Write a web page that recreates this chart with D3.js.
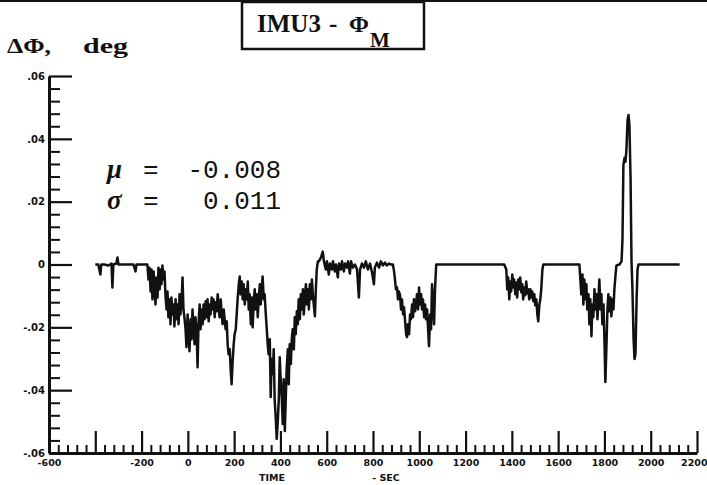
<!DOCTYPE html>
<html><head><meta charset="utf-8">
<script src="https://cdn.jsdelivr.net/npm/d3@7"></script>
<style>
html,body{margin:0;padding:0;background:#fff;}
svg{display:block;}
</style></head>
<body>
<svg id="chart" width="707" height="485"></svg>
<script>
// time, seconds
const time = [
-400,-387,-378,-374,-361,-343,-330,-326,-322,-309,-304,-300,-270,-235,-226,-222,-175,
-170,-166,-161,-157,-153,-148,-144,-140,-135,-131,-127,-122,-118,-114,-110,-105,-101,
-97,-92,-88,-84,-79,-75,-71,-66,-62,-58,-53,-49,-45,-40,-36,-32,-27,-23,-19,-14,
-10,-6,-1,3,7,12,16,20,25,29,33,38,42,46,51,55,59,64,68,72,77,
81,85,90,94,98,103,107,111,116,120,124,129,133,137,142,146,150,155,159,163,168,172,176,181,185,189,194,198,202,207,211,215,
220,224,228,233,237,241,246,250,254,259,263,267,272,276,280,285,289,293,298,302,306,311,315,319,323,328,332,
336,341,345,349,354,358,362,367,371,375,380,384,388,393,397,401,406,410,414,419,423,427,432,436,440,445,449,453,458,462,466,471,475,479,484,488,492,497,501,505,510,514,518,523,527,531,536,540,544,549,553,557,562,
566,575,583,588,596,601,609,614,622,627,635,640,648,653,661,666,674,679,687,692,700,705,713,722,731,739,744,752,761,769,778,787,795,804,808,817,826,834,843,852,860,869,878,886,
891,895,899,904,908,912,917,921,925,930,934,938,943,947,951,956,960,964,969,973,977,982,986,990,995,999,1003,1008,1012,1016,1021,1025,1029,1034,1038,1042,1047,1051,1055,1060,1064,1068,1073,
1367,1376,1380,1384,1389,1393,1397,1402,1406,1410,1415,1419,1423,1428,1432,1436,1441,1445,1449,1454,1458,1462,1467,1471,1475,1480,1484,1488,1493,1497,1501,1506,1510,1514,1519,1523,1527,1532,1536,1549,
1692,1696,1700,1705,1709,1713,1718,1722,1726,1731,1735,1739,1744,1748,1752,1757,1761,1765,1770,1774,1778,1783,1787,1791,1796,1800,1804,1809,1813,1817,1822,1826,1830,1835,1839,1843,1848,1852,1865,1874,
1878,1882,1887,1891,1895,1900,1904,1908,1913,1917,1921,1926,1930,1934,1939,1943,1947,2125
];
// delta phi, degrees
const dphi = [
0,0,-.0032,0,0,-.0003,.0003,-.0073,0,.0003,.0022,0,0,0,-.0022,0,0,
-.0048,-.0010,-.0086,-.0016,-.0111,-.0022,-.0063,-.0127,-.0041,-.0105,-.0010,-.0079,-.0016,-.0063,-.0003,-.0048,-.0022,
-.0095,-.0143,-.0086,-.0168,-.0111,-.0190,-.0105,-.0159,-.0127,-.0197,-.0111,-.0174,-.0127,-.0190,-.0095,-.0159,-.0111,-.0041,-.0143,-.0174,
-.0206,-.0263,-.0159,-.0222,-.0276,-.0174,-.0238,-.0143,-.0206,-.0254,-.0168,-.0222,-.0327,-.0190,-.0127,-.0206,-.0143,-.0190,-.0127,-.0174,-.0117,
-.0168,-.0111,-.0181,-.0127,-.0159,-.0105,-.0143,-.0111,-.0168,-.0120,-.0149,-.0095,-.0136,-.0168,-.0111,-.0159,-.0190,-.0143,-.0174,-.0206,-.0181,-.0254,-.0286,-.0270,-.0333,-.0381,-.0301,-.0254,-.0222,-.0206,-.0159,-.0111,
-.0063,-.0038,-.0095,-.0054,-.0111,-.0063,-.0127,-.0079,-.0111,-.0054,-.0143,-.0095,-.0190,-.0105,-.0200,-.0111,-.0079,-.0143,-.0095,-.0168,-.0111,-.0063,-.0127,-.0079,-.0038,-.0111,-.0095,
-.0149,-.0206,-.0254,-.0286,-.0238,-.0422,-.0301,-.0349,-.0270,-.0428,-.0492,-.0555,-.0508,-.0428,-.0295,-.0365,-.0428,-.0508,-.0365,-.0530,-.0428,-.0333,-.0270,-.0381,-.0254,-.0317,-.0238,-.0206,-.0270,-.0168,-.0222,-.0149,-.0190,-.0111,-.0174,-.0095,-.0143,-.0079,-.0159,-.0111,-.0063,-.0127,-.0079,-.0143,-.0063,-.0111,-.0048,-.0095,-.0127,-.0165,-.0079,-.0016,.0010,
.0010,.0022,.0041,.0010,-.0016,.0010,-.0032,.0003,-.0016,.0010,-.0022,0,-.0041,.0003,-.0016,.0010,-.0022,.0003,-.0010,.0010,-.0029,.0010,-.0010,0,-.0016,-.0105,-.0016,.0003,-.0010,.0010,-.0016,.0003,-.0022,-.0063,-.0010,.0006,-.0010,.0010,-.0003,.0006,-.0003,.0003,0,0,
-.0022,-.0048,-.0079,-.0073,-.0111,-.0086,-.0098,-.0143,-.0111,-.0159,-.0136,-.0174,-.0222,-.0231,-.0190,-.0222,-.0159,-.0174,-.0127,-.0168,-.0111,-.0149,-.0127,-.0095,-.0143,-.0073,-.0127,-.0095,-.0143,-.0111,-.0168,-.0127,-.0174,-.0143,-.0206,-.0260,-.0159,-.0206,-.0063,-.0127,-.0190,-.0079,0,
0,-.0016,-.0079,-.0041,-.0111,-.0054,-.0086,-.0032,-.0073,-.0048,-.0095,-.0057,-.0105,-.0048,-.0079,-.0041,-.0089,-.0063,-.0111,-.0073,-.0098,-.0054,-.0092,-.0079,-.0111,-.0079,-.0105,-.0086,-.0117,-.0095,-.0130,-.0111,-.0159,-.0181,-.0127,-.0111,-.0079,-.0016,0,0,
0,-.0048,-.0095,-.0032,-.0127,-.0048,-.0111,-.0063,-.0143,-.0095,-.0190,-.0111,-.0228,-.0127,-.0168,-.0079,-.0143,-.0095,-.0174,-.0111,-.0048,-.0143,-.0095,-.0190,-.0127,-.0238,-.0374,-.0254,-.0143,-.0095,-.0149,-.0105,-.0165,-.0111,-.0143,-.0079,-.0032,-.0003,0,.0010,
.0079,.0317,.0340,.0327,.0365,.0460,.0476,.0444,.0270,.0010,-.0079,-.0238,-.0301,-.0286,-.0111,-.0016,0,0
];
const xTickValues = [-600,-400,-200,0,200,400,600,800,1000,1200,1400,1600,1800,2000,2200];
const xTickLabels = ["-600","","-200","0","200","400","600","800","1000","1200","1400","1600","1800","2000","2200"];
const yTickValues = [0.06,0.04,0.02,0,-0.02,-0.04,-0.06];
const yTickLabels = [".06",".04",".02","0","-.02","-.04","-.06"];
const titleParts = ["IMU3", "-", "\u03A6"];
const titleSub = "M";
const yTitle = "\u0394\u03A6,";
const yUnit = "deg";
const xTitle1 = "TIME";
const xTitle2 = "- SEC";
const statSymbols = ["\u03BC","\u03C3"];
const statValues = ["-0.008","0.011"];

const ink = "#111";
const svg = d3.select("#chart");
const x = d3.scaleLinear().domain([-600,2200]).range([49,697]);
const y = d3.scaleLinear().domain([-0.06,0.06]).range([453,76]);

// top border line
svg.append("line").attr("x1",0).attr("x2",707).attr("y1",1).attr("y2",1)
  .attr("stroke",ink).attr("stroke-width",2);

// minor ticks
const xMinor = d3.range(-600,2201,40).filter(v => ((v+600)%200)!==0);
const yMinor = d3.range(-60,61,4).filter(v => v%20!==0).map(v=>v/1000);

svg.append("g").attr("transform","translate(0,453)")
  .call(d3.axisBottom(x).tickValues(xMinor).tickSize(-8).tickSizeOuter(0).tickFormat(""))
  .call(g=>g.select(".domain").remove())
  .selectAll("line").attr("stroke",ink).attr("stroke-width",2);
svg.append("g").attr("transform","translate(49,0)")
  .call(d3.axisLeft(y).tickValues(yMinor).tickSize(-11).tickSizeOuter(0).tickFormat(""))
  .call(g=>g.select(".domain").remove())
  .selectAll("line").attr("stroke",ink).attr("stroke-width",2);

// major axes
const xAxis = svg.append("g").attr("transform","translate(0,453)")
  .call(d3.axisBottom(x).tickValues(xTickValues).tickSize(-22).tickSizeOuter(0).tickPadding(6)
    .tickFormat((d,i)=>xTickLabels[i]));
xAxis.select(".domain").attr("stroke",ink).attr("stroke-width",3);
xAxis.selectAll("line").attr("stroke",ink).attr("stroke-width",2.2);
xAxis.selectAll("text").attr("font-family","DejaVu Sans").attr("font-weight","bold")
  .attr("font-size",9.5).attr("fill",ink);
xAxis.selectAll(".tick").filter((d,i)=>i===xTickValues.length-1).select("text")
  .attr("text-anchor","end").attr("x",10);

const yAxis = svg.append("g").attr("transform","translate(49,0)")
  .call(d3.axisLeft(y).tickValues(yTickValues).tickSize(-23).tickSizeOuter(0).tickPadding(4)
    .tickFormat((d,i)=>yTickLabels[i]));
yAxis.select(".domain").attr("stroke",ink).attr("stroke-width",3);
yAxis.selectAll("line").attr("stroke",ink).attr("stroke-width",2.2);
yAxis.selectAll("text").attr("font-family","DejaVu Sans").attr("font-weight","bold")
  .attr("font-size",10).attr("fill",ink);

// data line
const pts = time.map((t,i)=>[t,dphi[i]]);
svg.append("path").datum(pts)
  .attr("fill","none").attr("stroke",ink).attr("stroke-width",2.5)
  .attr("stroke-linejoin","round")
  .attr("d", d3.line().x(d=>x(d[0])).y(d=>y(d[1])));

// title box
svg.append("rect").attr("x",242).attr("y",2).attr("width",182).attr("height",47)
  .attr("fill","none").attr("stroke",ink).attr("stroke-width",2.5);
const tt = svg.append("text").attr("y",32)
  .attr("font-family","Liberation Serif").attr("font-weight","bold").attr("font-size",25).attr("fill",ink);
tt.append("tspan").attr("x",257).text(titleParts[0]);
tt.append("tspan").attr("x",329).text(titleParts[1]);
tt.append("tspan").attr("x",349).attr("font-size",24).text(titleParts[2]);
tt.append("tspan").attr("x",370).attr("dy",15).attr("font-size",21).text(titleSub);

// y title
svg.append("text").attr("x",7).attr("y",53).attr("font-family","Liberation Serif")
  .attr("font-weight","bold").attr("font-size",22).attr("fill",ink)
  .attr("textLength",44).attr("lengthAdjust","spacingAndGlyphs").text(yTitle);
svg.append("text").attr("x",83).attr("y",53).attr("font-family","Liberation Serif")
  .attr("font-weight","bold").attr("font-size",22).attr("fill",ink)
  .attr("textLength",45).attr("lengthAdjust","spacingAndGlyphs").text(yUnit);

// x titles
svg.append("text").attr("x",272).attr("y",481).attr("text-anchor","middle")
  .attr("font-family","DejaVu Sans").attr("font-weight","bold").attr("font-size",9.5).attr("fill",ink).text(xTitle1);
svg.append("text").attr("x",386).attr("y",481).attr("text-anchor","middle")
  .attr("font-family","DejaVu Sans").attr("font-weight","bold").attr("font-size",9.5).attr("fill",ink).text(xTitle2);

// statistics
const baseY = [178,209];
statSymbols.forEach((s,i)=>{
  svg.append("text").attr("x",107).attr("y",baseY[i]).attr("font-family","Liberation Serif")
    .attr("font-style","italic").attr("font-weight","bold").attr("font-size",27).attr("fill",ink).text(s);
  svg.append("text").attr("x",143).attr("y",baseY[i]).attr("font-family","Liberation Mono")
    .attr("font-size",26).attr("fill",ink).text("=");
  svg.append("text").attr("x",281).attr("y",baseY[i]).attr("text-anchor","end").attr("font-family","Liberation Mono")
    .attr("font-size",26).attr("fill",ink).text(statValues[i]);
});
</script>
</body></html>
